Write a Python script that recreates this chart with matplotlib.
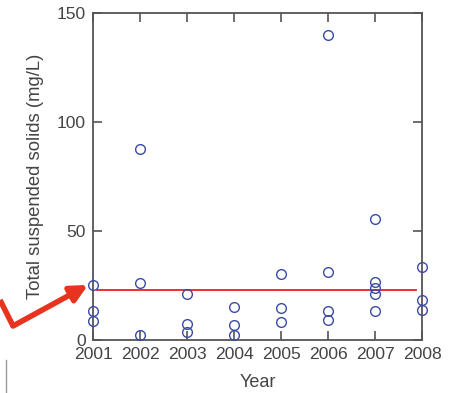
import numpy as np
import matplotlib.pyplot as plt

# sampled TSS per year (mg/L)
years = [2001, 2002, 2003, 2004, 2005, 2006, 2007, 2008]
tss_2001 = [25.2, 13.5, 8.5]
tss_2002 = [87.5, 26.3, 2.3]
tss_2003 = [21.0, 7.3, 3.5]
tss_2004 = [15.1, 7.0, 2.3]
tss_2005 = [30.3, 14.7, 8.4]
tss_2006 = [140.0, 31.2, 13.3, 9.2]
tss_2007 = [55.5, 26.6, 24.0, 21.0, 13.3]
tss_2008 = [33.6, 18.3, 13.8]
tss = [tss_2001, tss_2002, tss_2003, tss_2004, tss_2005, tss_2006, tss_2007, tss_2008]
threshold = 23.0

plt.rcParams['font.family'] = ['Liberation Sans', 'DejaVu Sans']
grey = '#555555'

fig = plt.figure(figsize=(4.5, 3.93), dpi=100)
ax = fig.add_axes([0.2067, 0.1349, 0.7311, 0.8321])

for yr, vals in zip(years, tss):
    ax.plot([yr] * len(vals), vals, 'o', ms=7, mfc='none', mec='#3a4aa8', mew=1.0,
            clip_on=False, zorder=3)

ax.plot([2001.09, 2007.87], [threshold, threshold], color='#e8231a', lw=1.3, zorder=2)

ax.set_xlim(2001, 2008)
ax.set_ylim(0, 150)
ax.set_xticks(years)
ax.set_yticks([0, 50, 100, 150])
ax.tick_params(direction='in', length=6.5, width=1.2, color=grey, labelcolor='#444444',
               labelsize=12.6, top=True, right=True)
ax.tick_params(axis='x', pad=5)
ax.tick_params(axis='y', pad=5)
for s in ax.spines.values():
    s.set_color(grey)
    s.set_linewidth(1.3)
ax.set_xlabel('Year', fontsize=13, color='#444444', labelpad=9)
ax.set_ylabel('Total suspended solids (mg/L)', fontsize=13.3, color='#444444', labelpad=9)

# red pointer arrow coming in from the left edge
fig.add_artist(plt.Line2D([0.0, 0.029], [1 - 300 / 393, 1 - 326 / 393],
                          transform=fig.transFigure, color='#e8331f', lw=4,
                          solid_capstyle='butt'))
ax.annotate('', xy=(88 / 450, 1 - 285 / 393), xycoords='figure fraction',
            xytext=(13 / 450, 1 - 326 / 393), textcoords='figure fraction',
            arrowprops=dict(arrowstyle='-|>,head_length=1.0,head_width=0.5',
                            color='#e8331f', lw=4, shrinkA=0, shrinkB=0))

# fragment of a neighbouring frame at the lower left
fig.add_artist(plt.Line2D([6 / 450, 6 / 450], [0, 1 - 360 / 393],
                          transform=fig.transFigure, color='#999999', lw=1))

fig.savefig('out.png', dpi=100)
